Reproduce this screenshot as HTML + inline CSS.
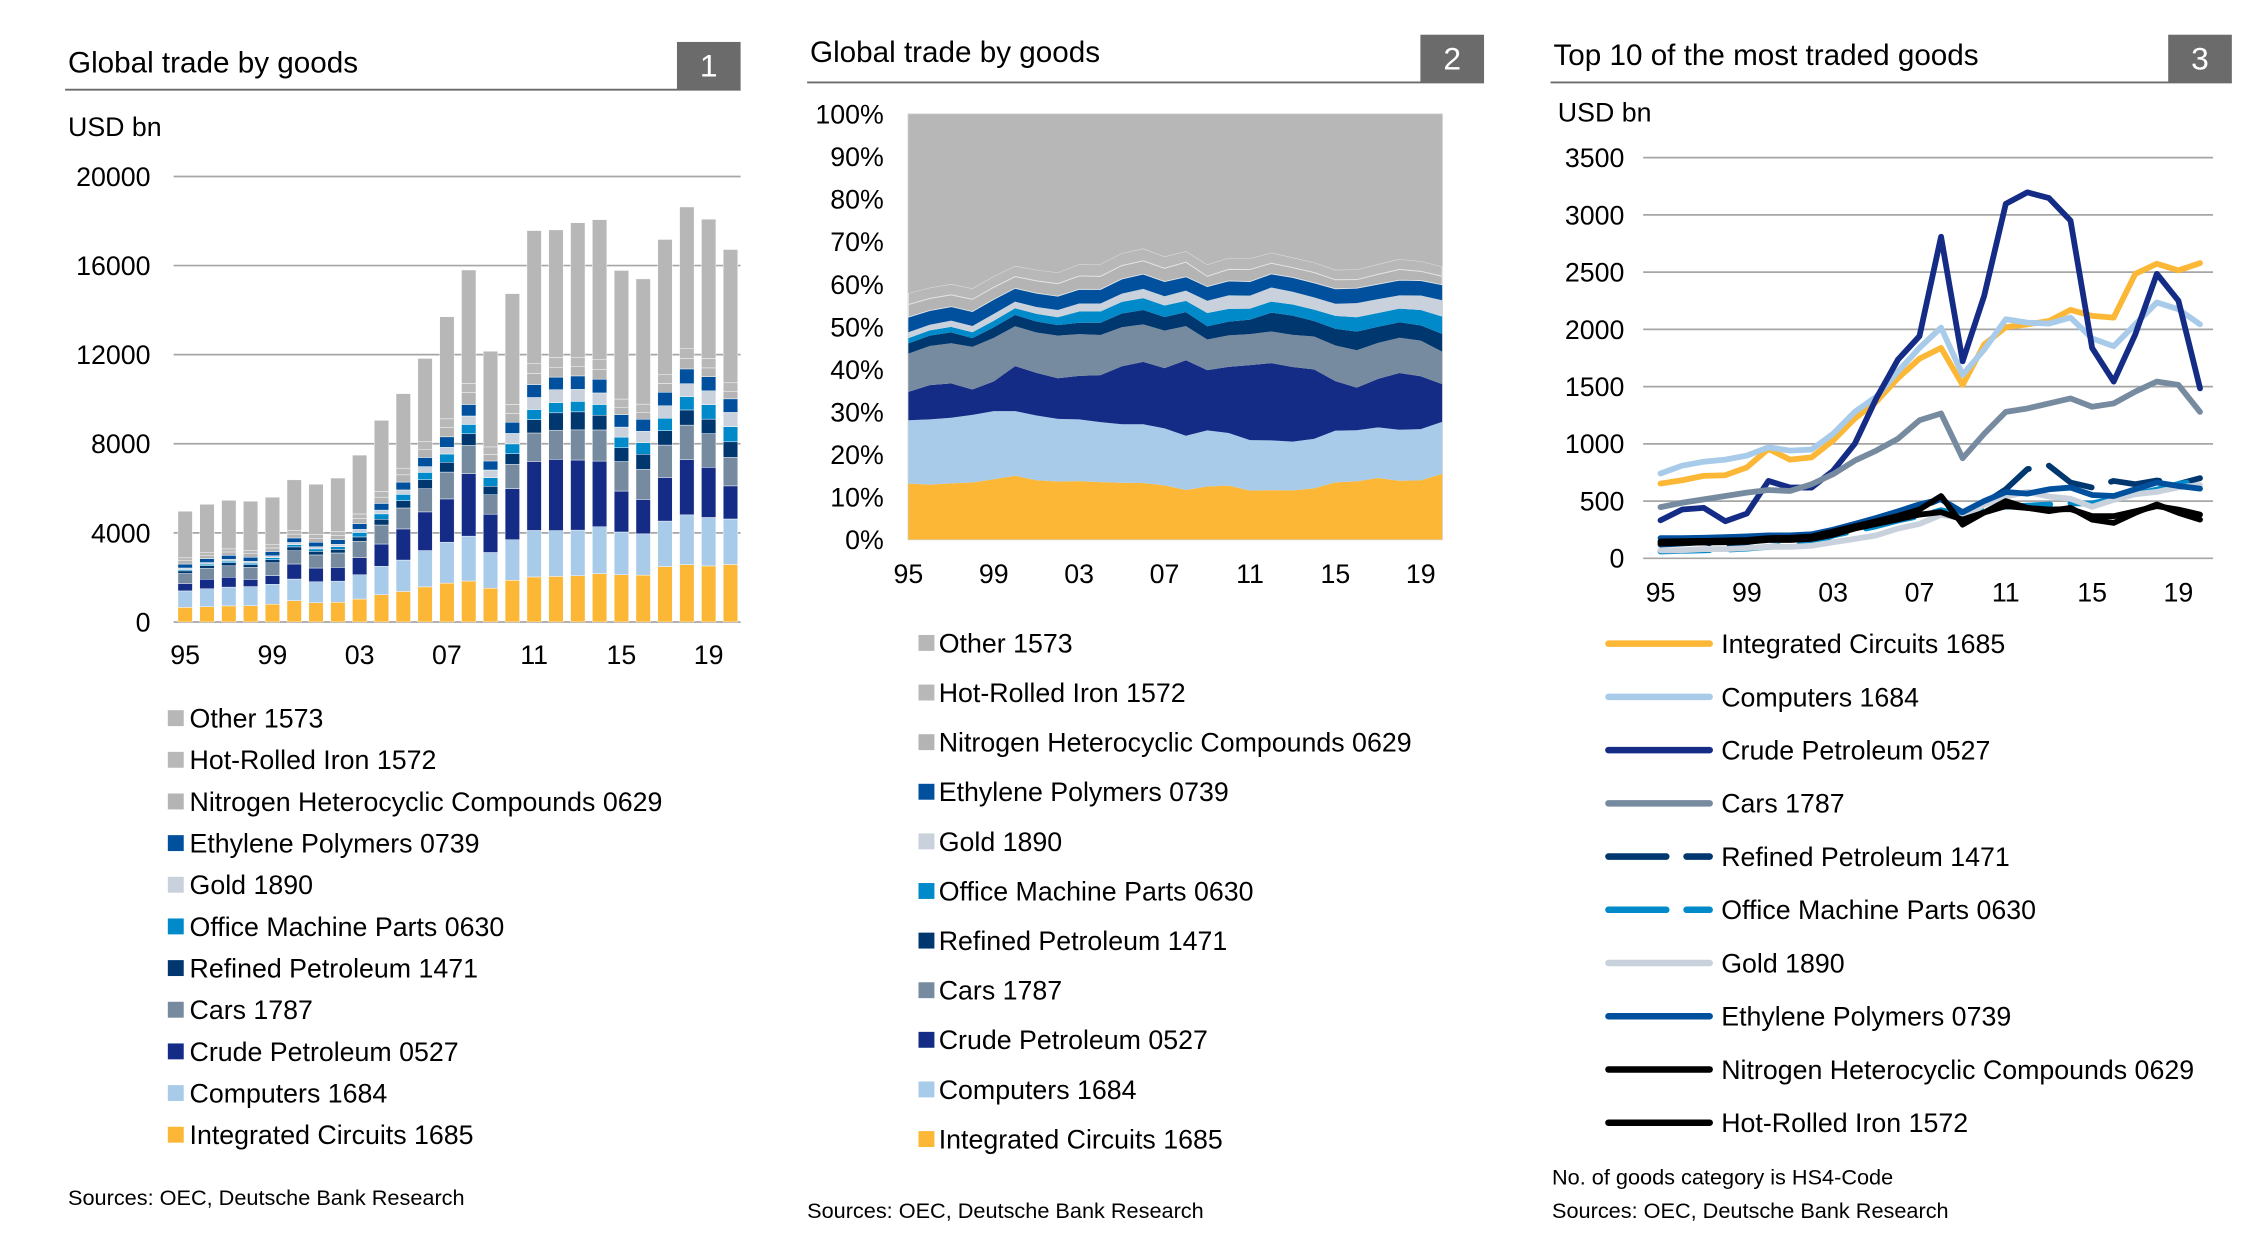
<!DOCTYPE html>
<html><head><meta charset="utf-8"><style>
html,body{margin:0;padding:0;background:#fff;}
svg{display:block;font-family:"Liberation Sans",Arial,sans-serif;}
</style></head><body>
<svg id="s" width="2242" height="1240" viewBox="0 0 1550 857.3" xmlns="http://www.w3.org/2000/svg"></svg>
<script>
const years = ['95','96','97','98','99','00','01','02','03','04','05','06','07','08','09','10','11','12','13','14','15','16','17','18','19','20'];
const xTickLabels = ['95','99','03','07','11','15','19'];
const totals = [4970,5280,5460,5420,5600,6380,6180,6460,7490,9050,10250,11830,13700,15800,12150,14740,17570,17600,17920,18060,15780,15400,17170,18630,18080,16720];
const integratedCircuits = [653,682,720,726,794,956,862,882,1029,1220,1368,1573,1744,1838,1515,1868,2020,2044,2073,2170,2118,2103,2485,2573,2515,2579];
const computers = [741,809,844,862,897,970,941,950,1088,1279,1411,1632,1838,2015,1603,1824,2088,2059,2050,2103,1921,1853,2044,2235,2176,2044];
const crudePetroleum = [332,426,441,324,391,676,618,618,765,1000,1397,1735,1941,2809,1721,2294,3097,3197,3147,2950,1838,1544,1956,2485,2250,1485];
const cars = [447,485,515,544,574,597,588,647,735,853,941,1044,1206,1265,874,1088,1279,1309,1353,1397,1324,1353,1456,1544,1515,1279];
const refinedPetroleum = [120,130,140,110,140,170,160,160,200,260,330,400,440,520,380,480,603,779,809,662,618,676,647,680,650,700];
const officeMachineParts = [60,65,70,75,85,100,110,120,200,240,280,330,370,420,380,440,450,460,470,480,480,520,560,600,650,680];
const gold = [70,70,80,80,90,100,100,110,140,170,200,260,300,380,350,470,540,580,540,520,450,510,560,580,620,640];
const ethylenePolymers = [176,176,180,185,191,200,200,210,250,300,353,410,471,515,403,500,579,565,603,618,553,544,603,662,632,609];
const nitrogenHeterocyclic = [147,150,152,155,160,176,180,190,235,280,324,370,426,544,294,400,500,441,412,441,338,309,397,471,397,338];
const hotRolledIron = [132,135,138,140,145,160,160,170,206,260,300,340,382,403,338,400,456,440,426,430,368,368,410,456,426,382];

const NS='http://www.w3.org/2000/svg';
const svg=document.getElementById('s');
function el(tag,attrs,parent,text){const e=document.createElementNS(NS,tag);for(const k in attrs)e.setAttribute(k,attrs[k]);if(text!==undefined)e.textContent=text;(parent||svg).appendChild(e);return e;}

const series=[
 {n:'Integrated Circuits 1685',d:integratedCircuits,c:'#fbb735'},
 {n:'Computers 1684',d:computers,c:'#a9cbea'},
 {n:'Crude Petroleum 0527',d:crudePetroleum,c:'#152c87'},
 {n:'Cars 1787',d:cars,c:'#778ba0'},
 {n:'Refined Petroleum 1471',d:refinedPetroleum,c:'#00376e',dash:true},
 {n:'Office Machine Parts 0630',d:officeMachineParts,c:'#008ac9',dash:true},
 {n:'Gold 1890',d:gold,c:'#c8d1dc'},
 {n:'Ethylene Polymers 0739',d:ethylenePolymers,c:'#00509e'},
 {n:'Nitrogen Heterocyclic Compounds 0629',d:nitrogenHeterocyclic,c:'#b4b4b4',lc:'#000'},
 {n:'Hot-Rolled Iron 1572',d:hotRolledIron,c:'#b8b8b8',lc:'#000'},
];
const otherVals=totals.map((t,i)=>t-series.reduce((a,s)=>a+s.d[i],0));
const stackSeries=series.concat([{n:'Other 1573',d:otherVals,c:'#b7b7b7'}]);

function header(x0,x1,ty,lineY,title,num){
  const t=el('text',{x:x0+2,y:ty,'font-size':20.5,fill:'#000'},svg,title);
  
  
  const l=el('line',{x1:x0,x2:x1,y1:lineY,y2:lineY,stroke:'#6b6b6b','stroke-width':1.3});
  
  
  const b=el('rect',{x:x1-44,y:lineY-33,width:44,height:33,fill:'#6b6b6b'});
  
  
  el('text',{x:x1-22,y:lineY-9,'font-size':22,fill:'#fff','text-anchor':'middle'},svg,String(num));
}

/* ---------- Chart 1: stacked bars ---------- */
header(45,512,50,62,'Global trade by goods',1);
el('text',{x:47,y:94,'font-size':18.5},svg,'USD bn');
const y1=v=>430-v/20000*308;
const x1=i=>128+i*15.08;
[0,4000,8000,12000,16000,20000].forEach(v=>{
  const g=el('line',{x1:120,x2:512,y1:y1(v),y2:y1(v),stroke:'#a6a6a6','stroke-width':1.2});
  
  
  const t=el('text',{x:104,y:y1(v)+6.5,'font-size':18.5,'text-anchor':'end'},svg,String(v));
  
  
});
years.forEach((yr,i)=>{
  let acc=0;
  stackSeries.forEach(s=>{
    const v=s.d[i];
    const r=el('rect',{x:x1(i)-5,y:y1(acc+v),width:10,height:Math.max(0,y1(acc)-y1(acc+v)),fill:s.c,stroke:'#fff','stroke-width':0.3});
    
    
    acc+=v;
  });
});
xTickLabels.forEach(lbl=>{
  const i=years.indexOf(lbl);
  const t=el('text',{x:x1(i),y:459,'font-size':18.5,'text-anchor':'middle'},svg,lbl);
  
  
});
stackSeries.slice().reverse().forEach((s,k)=>{
  const y=497+k*28.8;
  const r=el('rect',{x:116,y:y-6,width:11,height:11,fill:s.c});
  
  
  const t=el('text',{x:131,y:y+6,'font-size':18.5},svg,s.n);
  
  
});
el('text',{x:47,y:833,'font-size':15},svg,'Sources: OEC, Deutsche Bank Research');

/* ---------- Chart 2: 100% stacked area ---------- */
header(558,1026,43,57,'Global trade by goods',2);
const y2=p=>373-p*294;
const x2=i=>628+i*14.76;
const ap=el('rect',{x:628,y:79,width:369,height:294,fill:'none',stroke:'#d0d0d0','stroke-width':1});


[0,10,20,30,40,50,60,70,80,90,100].forEach(p=>{
  const t=el('text',{x:611,y:y2(p/100)+6.5,'font-size':18.5,'text-anchor':'end'},svg,p+'%');
  
  
});
let base=years.map(()=>0);
stackSeries.forEach(s=>{
  const top=base.map((b,i)=>b+s.d[i]/totals[i]);
  let d='M'+years.map((_,i)=>x2(i)+','+y2(top[i])).join(' L');
  for(let i=years.length-1;i>=0;i--)d+=' L'+x2(i)+','+y2(base[i]);
  const a=el('path',{d:d+'Z',fill:s.c,stroke:s.c==='#b4b4b4'||s.c==='#b8b8b8'?'#e6e6e6':'none','stroke-width':0.6});
  
  
  base=top;
});
xTickLabels.forEach(lbl=>{
  const i=years.indexOf(lbl);
  const t=el('text',{x:x2(i),y:403,'font-size':18.5,'text-anchor':'middle'},svg,lbl);
  
  
});
stackSeries.slice().reverse().forEach((s,k)=>{
  const y=445+k*34.3;
  const r=el('rect',{x:635,y:y-6,width:11,height:11,fill:s.c});
  
  
  const t=el('text',{x:649,y:y+6,'font-size':18.5},svg,s.n);
  
  
});
el('text',{x:558,y:842,'font-size':15},svg,'Sources: OEC, Deutsche Bank Research');

/* ---------- Chart 3: lines ---------- */
header(1072,1543,45,57,'Top 10 of the most traded goods',3);
el('text',{x:1077,y:84,'font-size':18.5},svg,'USD bn');
const y3=v=>386-v/3500*277;
const x3=i=>1148+i*14.92;
[0,500,1000,1500,2000,2500,3000,3500].forEach(v=>{
  const g=el('line',{x1:1136,x2:1530,y1:y3(v),y2:y3(v),stroke:'#a6a6a6','stroke-width':1.2});
  
  
  const t=el('text',{x:1123,y:y3(v)+6.5,'font-size':18.5,'text-anchor':'end'},svg,String(v));
  
  
});
series.forEach(s=>{
  const p=el('polyline',{points:s.d.map((v,i)=>x3(i)+','+y3(v)).join(' '),fill:'none',stroke:s.lc||s.c,'stroke-width':4,'stroke-linejoin':'round','stroke-linecap':'round'});
  if(s.dash)p.setAttribute('stroke-dasharray','34 14');
  
  
});
xTickLabels.forEach(lbl=>{
  const i=years.indexOf(lbl);
  const t=el('text',{x:x3(i),y:416,'font-size':18.5,'text-anchor':'middle'},svg,lbl);
  
  
});
series.forEach((s,k)=>{
  const y=445+k*36.8;
  const l=el('line',{x1:1112,x2:1182,y1:y,y2:y,stroke:s.lc||s.c,'stroke-width':4.5,'stroke-linecap':'round'});
  if(s.dash)l.setAttribute('stroke-dasharray','40 14');
  
  
  const t=el('text',{x:1190,y:y+6.5,'font-size':18.5},svg,s.n);
  
  
});
el('text',{x:1073,y:819,'font-size':15},svg,'No. of goods category is HS4-Code');
el('text',{x:1073,y:842,'font-size':15},svg,'Sources: OEC, Deutsche Bank Research');
</script>
</body></html>
